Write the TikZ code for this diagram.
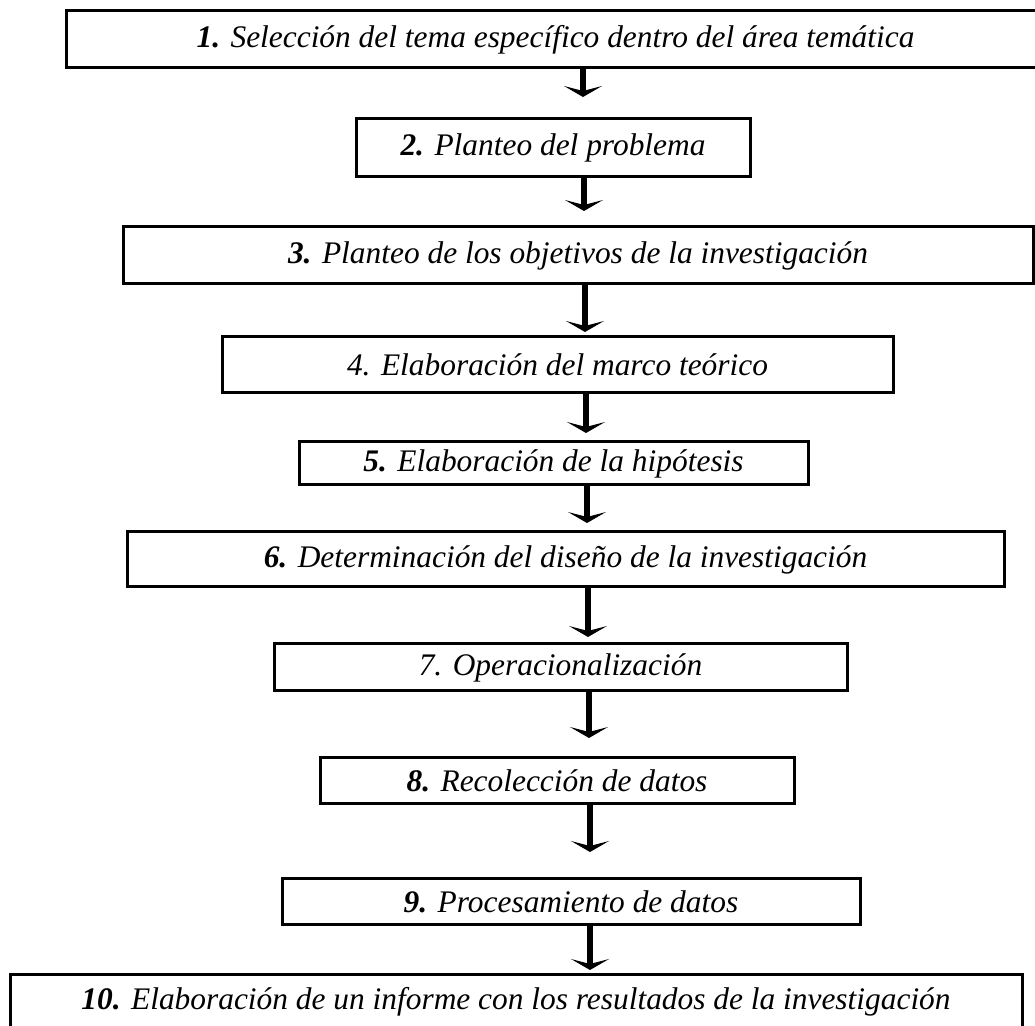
\documentclass[tikz,border=0pt]{standalone}
\usepackage{fontspec}
\setmainfont{Liberation Serif}
\usetikzlibrary{arrows.meta}

\tikzstyle{stepbox} = [draw, rectangle, line width=1.5pt, inner sep=0pt, text centered, font=\fontsize{15.7}{18}\selectfont\itshape]
\tikzstyle{arrow} = [line width=2.6pt, -{Stealth[length=5.5pt, width=19pt, inset=2.5pt]}]

\begin{document}
\begin{tikzpicture}[x=0.5pt, y=-0.5pt]
\useasboundingbox (0,0) rectangle (1035,1026);

% Steps
\node (step1) [stepbox, minimum width=489.5pt, minimum height=28.5pt] at (555.5,39.5) {\textbf{1.} Selección del tema específico dentro del área temática};
\node (step2) [stepbox, minimum width=197pt, minimum height=29pt] at (553,148) {\textbf{2.} Planteo del problema};
\node (step3) [stepbox, minimum width=455pt, minimum height=28.5pt] at (578,255.5) {\textbf{3.} Planteo de los objetivos de la investigación};
\node (step4) [stepbox, minimum width=335.5pt, minimum height=28pt] at (557.5,365) {4. Elaboración del marco teórico};
\node (step5) [stepbox, minimum width=254.5pt, minimum height=21.5pt] at (553.5,463.5) {\textbf{5.} Elaboración de la hipótesis};
\node (step6) [stepbox, minimum width=438.5pt, minimum height=27.5pt] at (565.5,559.5) {\textbf{6.} Determinación del diseño de la investigación};
\node (step7) [stepbox, minimum width=286.5pt, minimum height=23.5pt] at (560.5,667.5) {7. Operacionalización};
\node (step8) [stepbox, minimum width=237pt, minimum height=23pt] at (557,781) {\textbf{8.} Recolección de datos};
\node (step9) [stepbox, minimum width=289pt, minimum height=23pt] at (571,902) {\textbf{9.} Procesamiento de datos};
\node (step10) [stepbox, minimum width=506pt, minimum height=28pt] at (516,1002) {\textbf{10.} Elaboración de un informe con los resultados de la investigación};

% Arrow tips
\coordinate (tip2) at (583,97);
\coordinate (tip3) at (584,211);
\coordinate (tip4) at (585,332);
\coordinate (tip5) at (586,433);
\coordinate (tip6) at (587,523);
\coordinate (tip7) at (588,637);
\coordinate (tip8) at (589,738);
\coordinate (tip9) at (590,852);
\coordinate (tip10) at (590,970);

% Arrows
\draw [arrow] (tip2 |- step1.south) -- (tip2);
\draw [arrow] (tip3 |- step2.south) -- (tip3);
\draw [arrow] (tip4 |- step3.south) -- (tip4);
\draw [arrow] (tip5 |- step4.south) -- (tip5);
\draw [arrow] (tip6 |- step5.south) -- (tip6);
\draw [arrow] (tip7 |- step6.south) -- (tip7);
\draw [arrow] (tip8 |- step7.south) -- (tip8);
\draw [arrow] (tip9 |- step8.south) -- (tip9);
\draw [arrow] (tip10 |- step9.south) -- (tip10);

\end{tikzpicture}
\end{document}
